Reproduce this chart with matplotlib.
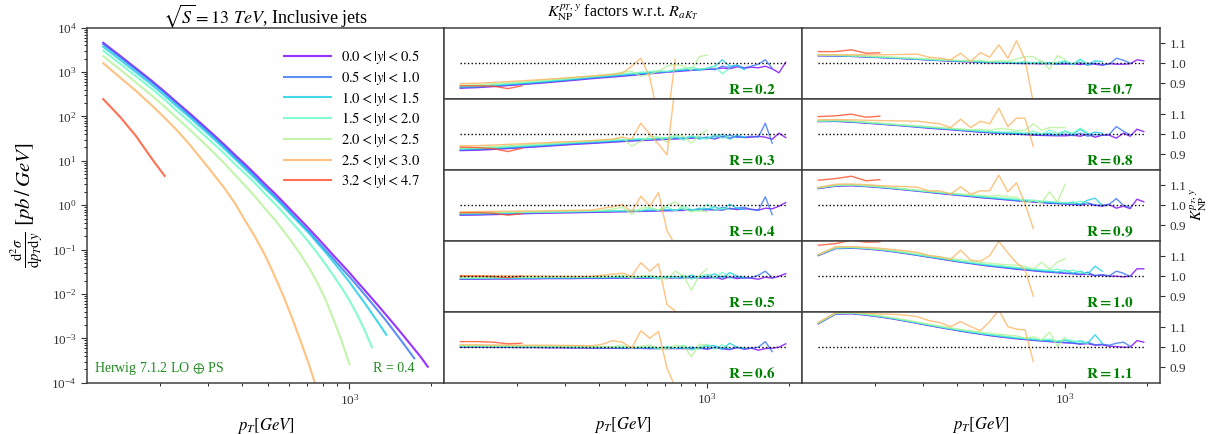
import numpy as np
import matplotlib.pyplot as plt
from matplotlib.ticker import NullFormatter, LogLocator

plt.rcParams['font.family'] = 'serif'
plt.rcParams['font.serif'] = ['Liberation Serif', 'DejaVu Serif']
plt.rcParams['mathtext.fontset'] = 'stix'

# bin centres [GeV]
pt = [123.5, 143, 163.5, 185, 208, 232.5, 258.5, 286, 315, 346, 378.5, 412.5,
      449, 487.5, 527.5, 570, 615, 662, 711.5, 763.5, 818, 875.5, 936, 999.5,
      1066.5, 1136.5, 1210, 1287.5, 1368.5, 1453.5, 1542.5, 1636, 1734, 1837, 1945]

ybins = [r'$0.0 < |y| < 0.5$', r'$0.5 < |y| < 1.0$', r'$1.0 < |y| < 1.5$',
         r'$1.5 < |y| < 2.0$', r'$2.0 < |y| < 2.5$', r'$2.5 < |y| < 3.0$',
         r'$3.2 < |y| < 4.7$']

# log10 of d2sigma/dpTdy [pb/GeV], R = 0.4
lxs_y0 = [3.66, 3.36, 3.08, 2.82, 2.56, 2.30, 2.06, 1.82, 1.59, 1.36, 1.13, 0.92,
          0.70, 0.48, 0.28, 0.07, -0.14, -0.34, -0.54, -0.74, -0.94, -1.14, -1.33,
          -1.52, -1.72, -1.91, -2.10, -2.29, -2.48, -2.67, -2.86, -3.05, -3.24,
          -3.43, -3.64]
lxs_y1 = [3.63, 3.33, 3.05, 2.79, 2.53, 2.27, 2.02, 1.78, 1.55, 1.32, 1.08, 0.87,
          0.65, 0.42, 0.22, 0.01, -0.21, -0.41, -0.61, -0.82, -1.02, -1.22, -1.42,
          -1.61, -1.81, -2.01, -2.21, -2.41, -2.61, -2.82, -3.03, -3.24, -3.45]
lxs_y2 = [3.57, 3.27, 2.99, 2.73, 2.47, 2.21, 1.97, 1.73, 1.50, 1.27, 1.04, 0.82,
          0.60, 0.38, 0.18, -0.03, -0.24, -0.44, -0.64, -0.86, -1.07, -1.29, -1.51,
          -1.73, -1.97, -2.20, -2.44, -2.68, -2.92]
lxs_y3 = [3.48, 3.18, 2.90, 2.64, 2.38, 2.11, 1.87, 1.62, 1.39, 1.16, 0.92, 0.71,
          0.49, 0.26, 0.05, -0.17, -0.40, -0.62, -0.85, -1.09, -1.34, -1.60, -1.86,
          -2.14, -2.46, -2.81, -3.20]
lxs_y4 = [3.36, 3.05, 2.76, 2.49, 2.22, 1.95, 1.69, 1.44, 1.19, 0.94, 0.68, 0.44,
          0.19, -0.07, -0.31, -0.57, -0.84, -1.12, -1.42, -1.76, -2.14, -2.59, -3.06,
          -3.58]
lxs_y5 = [3.20, 2.87, 2.57, 2.27, 1.97, 1.67, 1.35, 1.02, 0.70, 0.38, 0.04, -0.35,
          -0.72, -1.12, -1.57, -2.04, -2.55, -3.08, -3.62, -4.20]
lxs_y6 = [2.39, 1.98, 1.55, 1.08, 0.66]

# K_NP(pT, y) per jet radius, one list per rapidity bin
k_r02 = [
    [0.875, 0.878, 0.883, 0.888, 0.893, 0.898, 0.903, 0.908, 0.913, 0.918, 0.923, 0.927, 0.931, 0.935, 0.939, 0.943, 0.947, 0.951, 0.955, 0.958, 0.961, 0.964, 0.967, 0.969, 0.971, 0.976, 0.972, 0.982, 0.975, 0.980, 0.977, 0.985, 0.972, 0.952, 1.005],
    [0.878, 0.881, 0.886, 0.891, 0.896, 0.901, 0.906, 0.911, 0.916, 0.921, 0.926, 0.930, 0.934, 0.938, 0.942, 0.946, 0.950, 0.954, 0.957, 0.961, 0.964, 0.967, 0.970, 0.972, 0.968, 0.985, 0.978, 0.990, 0.977, 0.985, 0.995, 1.017, 0.975],
    [0.882, 0.884, 0.889, 0.894, 0.899, 0.904, 0.909, 0.914, 0.919, 0.924, 0.929, 0.933, 0.937, 0.941, 0.945, 0.949, 0.953, 0.956, 0.958, 0.962, 0.966, 0.970, 0.965, 0.975, 0.985, 1.017, 0.985, 0.990, 0.967],
    [0.886, 0.888, 0.893, 0.898, 0.903, 0.908, 0.913, 0.918, 0.923, 0.928, 0.933, 0.937, 0.941, 0.946, 0.950, 0.955, 0.958, 0.962, 0.958, 0.968, 0.972, 0.980, 0.970, 0.975, 0.985, 0.947, 0.975],
    [0.890, 0.892, 0.897, 0.902, 0.907, 0.912, 0.917, 0.922, 0.927, 0.932, 0.937, 0.941, 0.946, 0.955, 0.960, 0.935, 0.945, 0.960, 0.985, 0.995, 0.985, 0.965, 1.033, 1.040],
    [0.898, 0.900, 0.904, 0.908, 0.912, 0.916, 0.920, 0.924, 0.928, 0.932, 0.936, 0.940, 0.944, 0.950, 0.985, 1.025, 0.930, 0.720, 0.700, 1.020],
    [0.887, 0.887, 0.885, 0.873, 0.887]]
k_r03 = [
    [0.918, 0.920, 0.924, 0.928, 0.932, 0.936, 0.940, 0.944, 0.948, 0.951, 0.954, 0.957, 0.960, 0.963, 0.966, 0.968, 0.970, 0.972, 0.974, 0.976, 0.978, 0.980, 0.982, 0.984, 0.976, 0.988, 0.980, 0.990, 0.983, 0.985, 0.990, 0.985, 0.975, 1.005, 0.983],
    [0.921, 0.923, 0.927, 0.931, 0.935, 0.939, 0.943, 0.947, 0.951, 0.954, 0.957, 0.960, 0.963, 0.966, 0.969, 0.971, 0.973, 0.975, 0.977, 0.979, 0.981, 0.983, 0.985, 0.980, 0.992, 0.985, 0.995, 0.984, 0.985, 0.990, 0.985, 1.055, 0.955],
    [0.925, 0.927, 0.931, 0.935, 0.939, 0.943, 0.947, 0.951, 0.955, 0.958, 0.961, 0.964, 0.967, 0.970, 0.973, 0.975, 0.977, 0.979, 0.981, 0.983, 0.979, 0.990, 0.975, 0.985, 0.980, 1.000, 0.975, 0.995, 0.985],
    [0.928, 0.930, 0.934, 0.938, 0.942, 0.946, 0.950, 0.954, 0.958, 0.961, 0.964, 0.967, 0.970, 0.972, 0.975, 0.978, 0.975, 0.985, 0.980, 0.995, 0.970, 0.990, 0.985, 0.975, 1.000, 0.980, 0.990],
    [0.932, 0.934, 0.938, 0.942, 0.946, 0.950, 0.954, 0.958, 0.962, 0.965, 0.968, 0.971, 0.974, 0.985, 0.940, 0.965, 0.990, 0.985, 0.960, 0.995, 0.990, 0.955, 0.998, 1.020],
    [0.942, 0.943, 0.946, 0.949, 0.952, 0.955, 0.958, 0.961, 0.963, 0.965, 0.968, 0.972, 0.975, 0.985, 0.975, 1.055, 1.000, 0.950, 0.897, 1.250],
    [0.935, 0.933, 0.928, 0.913, 0.930]]
k_r04 = [
    [0.950, 0.951, 0.953, 0.955, 0.957, 0.959, 0.960, 0.961, 0.962, 0.963, 0.964, 0.965, 0.966, 0.967, 0.968, 0.969, 0.970, 0.971, 0.972, 0.973, 0.974, 0.975, 0.976, 0.977, 0.978, 0.975, 0.985, 0.978, 0.982, 0.980, 0.975, 0.985, 0.982, 0.995, 1.013],
    [0.953, 0.954, 0.956, 0.958, 0.960, 0.962, 0.963, 0.964, 0.965, 0.966, 0.967, 0.968, 0.969, 0.970, 0.971, 0.972, 0.973, 0.974, 0.975, 0.976, 0.977, 0.978, 0.979, 0.982, 0.975, 0.990, 0.980, 0.985, 0.990, 0.978, 0.975, 1.042, 0.953],
    [0.956, 0.957, 0.959, 0.961, 0.963, 0.964, 0.965, 0.966, 0.967, 0.968, 0.969, 0.970, 0.971, 0.972, 0.973, 0.974, 0.975, 0.976, 0.977, 0.975, 0.982, 0.972, 0.985, 0.978, 0.993, 0.975, 1.005, 0.985, 0.978],
    [0.959, 0.960, 0.962, 0.963, 0.964, 0.965, 0.966, 0.967, 0.968, 0.969, 0.970, 0.971, 0.972, 0.973, 0.975, 0.972, 0.985, 0.975, 0.990, 0.972, 0.995, 0.978, 0.970, 1.005, 0.975, 0.985, 0.978],
    [0.962, 0.963, 0.964, 0.965, 0.966, 0.967, 0.968, 0.969, 0.970, 0.971, 0.973, 0.975, 0.980, 0.990, 0.955, 0.985, 0.990, 0.975, 1.000, 1.017, 0.980, 0.967, 0.975, 0.965],
    [0.967, 0.968, 0.969, 0.970, 0.971, 0.971, 0.972, 0.973, 0.974, 0.975, 0.976, 0.985, 0.992, 1.003, 0.967, 1.045, 0.995, 1.063, 0.872, 0.800],
    [0.962, 0.963, 0.960, 0.950, 0.958]]
k_r05 = [
    [0.985, 0.985, 0.986, 0.986, 0.987, 0.987, 0.988, 0.988, 0.988, 0.989, 0.989, 0.989, 0.990, 0.990, 0.990, 0.990, 0.991, 0.991, 0.991, 0.991, 0.992, 0.992, 0.992, 0.990, 0.995, 0.985, 0.997, 0.988, 0.993, 0.990, 0.985, 0.995, 0.990, 1.000, 1.013],
    [0.987, 0.987, 0.988, 0.988, 0.989, 0.989, 0.990, 0.990, 0.990, 0.991, 0.991, 0.991, 0.992, 0.992, 0.992, 0.992, 0.993, 0.993, 0.993, 0.993, 0.994, 0.994, 0.992, 0.997, 0.990, 1.000, 0.992, 0.995, 0.990, 0.993, 1.005, 1.025, 0.993],
    [0.989, 0.989, 0.990, 0.990, 0.991, 0.991, 0.992, 0.992, 0.992, 0.993, 0.993, 0.993, 0.994, 0.994, 0.994, 0.994, 0.995, 0.995, 0.995, 0.998, 0.990, 1.005, 0.993, 1.000, 1.012, 0.990, 1.018, 1.000, 0.995],
    [0.991, 0.991, 0.992, 0.992, 0.993, 0.993, 0.994, 0.994, 0.994, 0.995, 0.995, 0.995, 0.996, 0.996, 0.997, 0.995, 0.998, 0.985, 1.000, 0.990, 1.005, 0.985, 0.998, 1.010, 0.990, 1.020, 0.995],
    [0.993, 0.993, 0.994, 0.994, 0.995, 0.995, 0.996, 0.996, 0.996, 0.997, 0.997, 0.998, 0.999, 1.005, 0.990, 1.000, 1.005, 0.995, 0.985, 1.025, 1.000, 0.930, 1.005, 1.037],
    [1.003, 1.003, 1.002, 1.002, 1.001, 1.001, 1.000, 1.000, 0.999, 0.999, 1.000, 1.005, 1.010, 1.015, 1.000, 1.067, 1.025, 1.062, 0.858, 0.825],
    [1.000, 1.000, 0.998, 0.993, 1.000]]
k_r06 = [
    [1.000, 1.000, 0.999, 0.999, 0.998, 0.998, 0.997, 0.997, 0.996, 0.996, 0.995, 0.995, 0.995, 0.994, 0.994, 0.994, 0.993, 0.993, 0.993, 0.993, 0.993, 0.992, 0.995, 0.990, 0.998, 0.992, 0.988, 0.998, 0.990, 0.995, 0.985, 0.993, 0.995, 1.000, 1.017],
    [1.002, 1.002, 1.001, 1.001, 1.000, 1.000, 0.999, 0.999, 0.998, 0.998, 0.997, 0.997, 0.997, 0.996, 0.996, 0.996, 0.995, 0.995, 0.995, 0.995, 0.995, 0.994, 0.998, 0.992, 1.000, 0.995, 0.990, 1.000, 0.993, 0.995, 1.000, 1.028, 0.978],
    [1.004, 1.004, 1.003, 1.003, 1.002, 1.002, 1.001, 1.001, 1.000, 1.000, 0.999, 0.999, 0.999, 0.998, 0.998, 0.998, 0.997, 0.997, 0.997, 0.997, 0.995, 1.000, 0.992, 1.005, 1.008, 0.990, 1.020, 1.000, 0.995],
    [1.006, 1.006, 1.005, 1.005, 1.004, 1.004, 1.003, 1.003, 1.002, 1.002, 1.001, 1.001, 1.000, 1.000, 1.000, 0.998, 1.002, 0.990, 1.005, 0.995, 1.010, 0.985, 1.000, 1.015, 0.990, 1.012, 0.995],
    [1.008, 1.008, 1.007, 1.007, 1.006, 1.006, 1.005, 1.005, 1.004, 1.004, 1.003, 1.003, 1.002, 1.010, 0.995, 1.005, 1.010, 0.998, 0.990, 1.010, 1.005, 0.953, 1.015, 1.010],
    [1.012, 1.012, 1.011, 1.011, 1.010, 1.010, 1.010, 1.009, 1.009, 1.008, 1.008, 1.015, 1.033, 1.025, 0.995, 1.082, 1.045, 1.078, 0.895, 0.800],
    [1.028, 1.028, 1.025, 1.017, 1.020]]
k_r07 = [
    [1.037, 1.036, 1.034, 1.031, 1.028, 1.025, 1.022, 1.019, 1.016, 1.013, 1.010, 1.008, 1.006, 1.004, 1.002, 1.001, 1.000, 0.999, 0.998, 0.998, 0.997, 0.997, 0.996, 0.996, 0.998, 0.993, 1.000, 0.995, 0.990, 0.998, 0.995, 0.995, 0.997, 1.017, 1.012],
    [1.038, 1.037, 1.035, 1.032, 1.029, 1.026, 1.023, 1.020, 1.017, 1.014, 1.012, 1.010, 1.008, 1.006, 1.004, 1.003, 1.002, 1.001, 1.000, 1.000, 0.999, 0.999, 0.998, 1.000, 0.995, 1.003, 0.990, 1.000, 0.993, 0.995, 1.025, 1.015, 1.000],
    [1.039, 1.038, 1.036, 1.033, 1.030, 1.027, 1.024, 1.021, 1.018, 1.015, 1.013, 1.011, 1.009, 1.007, 1.005, 1.004, 1.003, 1.002, 1.001, 1.000, 1.000, 1.003, 0.995, 1.010, 0.995, 1.020, 0.993, 1.012, 1.008],
    [1.040, 1.039, 1.037, 1.034, 1.031, 1.028, 1.025, 1.022, 1.019, 1.016, 1.014, 1.012, 1.010, 1.008, 1.007, 1.005, 1.006, 1.003, 1.008, 1.000, 1.010, 0.995, 1.005, 1.012, 0.993, 1.015, 0.998],
    [1.041, 1.040, 1.038, 1.035, 1.033, 1.030, 1.027, 1.024, 1.021, 1.018, 1.016, 1.014, 1.012, 1.015, 1.008, 1.012, 1.010, 1.020, 1.033, 1.033, 1.008, 0.970, 1.038, 1.020],
    [1.042, 1.042, 1.042, 1.042, 1.042, 1.043, 1.044, 1.045, 1.030, 1.025, 1.017, 1.050, 1.008, 1.053, 1.030, 1.092, 1.025, 1.112, 1.020, 0.800],
    [1.058, 1.058, 1.067, 1.050, 1.052]]
k_r08 = [
    [1.063, 1.064, 1.060, 1.055, 1.050, 1.045, 1.040, 1.035, 1.030, 1.026, 1.022, 1.018, 1.014, 1.010, 1.007, 1.004, 1.002, 1.000, 0.998, 0.995, 0.994, 0.993, 0.992, 0.992, 0.995, 0.990, 1.000, 0.985, 0.995, 0.995, 0.980, 1.005, 0.990, 1.025, 1.013],
    [1.064, 1.066, 1.062, 1.057, 1.052, 1.047, 1.042, 1.037, 1.032, 1.028, 1.024, 1.020, 1.016, 1.012, 1.009, 1.006, 1.004, 1.002, 1.000, 0.998, 0.997, 0.996, 0.995, 1.000, 0.993, 1.005, 0.990, 0.998, 0.995, 1.000, 1.038, 1.015, 0.997],
    [1.065, 1.067, 1.063, 1.058, 1.053, 1.048, 1.043, 1.038, 1.034, 1.030, 1.026, 1.022, 1.018, 1.014, 1.011, 1.008, 1.006, 1.004, 1.003, 1.002, 1.000, 1.005, 0.995, 1.015, 0.998, 1.025, 0.998, 1.010, 1.005],
    [1.066, 1.068, 1.064, 1.059, 1.054, 1.049, 1.044, 1.039, 1.035, 1.031, 1.027, 1.023, 1.020, 1.016, 1.013, 1.011, 1.010, 1.012, 1.005, 1.015, 1.000, 1.020, 1.005, 1.015, 1.005, 1.030, 1.008],
    [1.067, 1.069, 1.065, 1.060, 1.055, 1.050, 1.046, 1.042, 1.038, 1.034, 1.030, 1.026, 1.022, 1.025, 1.020, 1.028, 1.025, 1.018, 1.020, 1.052, 1.020, 1.033, 1.033, 1.033],
    [1.072, 1.073, 1.072, 1.070, 1.068, 1.067, 1.066, 1.065, 1.058, 1.052, 1.033, 1.075, 1.033, 1.065, 1.052, 1.130, 1.038, 1.080, 1.080, 0.938],
    [1.088, 1.092, 1.100, 1.085, 1.090]]
k_r09 = [
    [1.083, 1.095, 1.097, 1.093, 1.088, 1.082, 1.076, 1.070, 1.064, 1.058, 1.053, 1.048, 1.043, 1.038, 1.034, 1.030, 1.026, 1.022, 1.019, 1.016, 1.013, 1.010, 1.008, 1.006, 1.004, 1.000, 1.008, 1.000, 0.995, 1.003, 0.985, 0.995, 0.983, 1.030, 1.017],
    [1.085, 1.097, 1.099, 1.095, 1.090, 1.084, 1.078, 1.072, 1.066, 1.060, 1.055, 1.050, 1.045, 1.040, 1.036, 1.032, 1.028, 1.024, 1.021, 1.018, 1.015, 1.012, 1.010, 1.008, 1.006, 1.004, 1.012, 1.000, 1.000, 1.005, 1.033, 1.000, 0.990],
    [1.086, 1.098, 1.100, 1.096, 1.091, 1.085, 1.079, 1.073, 1.067, 1.062, 1.057, 1.052, 1.047, 1.042, 1.038, 1.034, 1.030, 1.026, 1.023, 1.020, 1.017, 1.014, 1.012, 1.010, 1.015, 1.005, 1.025, 1.035, 1.000],
    [1.087, 1.099, 1.101, 1.097, 1.092, 1.086, 1.080, 1.074, 1.068, 1.063, 1.058, 1.053, 1.048, 1.044, 1.040, 1.036, 1.033, 1.030, 1.027, 1.025, 1.020, 1.018, 1.015, 1.012, 1.010, 1.020, 1.008],
    [1.088, 1.100, 1.102, 1.098, 1.093, 1.087, 1.081, 1.075, 1.070, 1.065, 1.060, 1.056, 1.052, 1.050, 1.045, 1.048, 1.042, 1.040, 1.012, 1.025, 1.010, 1.067, 1.015, 1.105],
    [1.088, 1.105, 1.106, 1.103, 1.098, 1.095, 1.093, 1.090, 1.072, 1.072, 1.055, 1.092, 1.055, 1.072, 1.072, 1.150, 1.067, 1.112, 1.008, 0.883],
    [1.125, 1.133, 1.145, 1.122, 1.128]]
k_r10 = [
    [1.103, 1.138, 1.140, 1.136, 1.130, 1.122, 1.113, 1.104, 1.095, 1.086, 1.078, 1.070, 1.063, 1.056, 1.050, 1.045, 1.040, 1.035, 1.031, 1.027, 1.023, 1.020, 1.017, 1.014, 1.012, 1.008, 1.010, 1.003, 1.005, 1.000, 1.000, 0.997, 1.000, 1.037, 1.037],
    [1.105, 1.140, 1.142, 1.138, 1.132, 1.124, 1.115, 1.106, 1.097, 1.088, 1.080, 1.072, 1.065, 1.058, 1.052, 1.047, 1.042, 1.037, 1.033, 1.029, 1.025, 1.022, 1.019, 1.016, 1.014, 1.010, 1.020, 1.003, 1.008, 1.002, 1.025, 1.015, 0.998],
    [1.106, 1.141, 1.143, 1.139, 1.133, 1.125, 1.116, 1.107, 1.098, 1.089, 1.081, 1.073, 1.066, 1.060, 1.054, 1.049, 1.044, 1.040, 1.036, 1.032, 1.028, 1.025, 1.020, 1.030, 1.015, 1.025, 1.010, 1.050, 1.025],
    [1.107, 1.142, 1.144, 1.140, 1.134, 1.126, 1.117, 1.108, 1.099, 1.091, 1.083, 1.075, 1.068, 1.062, 1.057, 1.052, 1.048, 1.044, 1.040, 1.036, 1.032, 1.030, 1.035, 1.025, 1.030, 1.020, 1.012],
    [1.108, 1.143, 1.145, 1.141, 1.135, 1.128, 1.120, 1.112, 1.104, 1.096, 1.089, 1.082, 1.076, 1.070, 1.065, 1.060, 1.057, 1.055, 1.050, 1.035, 1.070, 1.035, 1.070, 1.087],
    [1.108, 1.147, 1.148, 1.145, 1.140, 1.133, 1.127, 1.120, 1.103, 1.097, 1.083, 1.130, 1.080, 1.075, 1.103, 1.175, 1.117, 1.067, 1.033, 0.900],
    [1.155, 1.163, 1.180, 1.170, 1.172]]
k_r11 = [
    [1.117, 1.165, 1.167, 1.160, 1.151, 1.141, 1.130, 1.119, 1.108, 1.098, 1.089, 1.080, 1.072, 1.065, 1.058, 1.052, 1.047, 1.042, 1.038, 1.034, 1.031, 1.028, 1.025, 1.022, 1.020, 1.015, 1.018, 1.010, 1.012, 1.005, 1.003, 1.000, 1.000, 1.033, 1.025],
    [1.119, 1.167, 1.169, 1.162, 1.153, 1.143, 1.132, 1.121, 1.110, 1.100, 1.091, 1.082, 1.074, 1.067, 1.060, 1.054, 1.049, 1.044, 1.040, 1.036, 1.033, 1.030, 1.027, 1.024, 1.022, 1.017, 1.025, 1.012, 1.015, 1.010, 1.020, 1.025, 1.005],
    [1.120, 1.168, 1.170, 1.163, 1.154, 1.144, 1.133, 1.122, 1.111, 1.101, 1.092, 1.083, 1.075, 1.068, 1.062, 1.056, 1.051, 1.046, 1.042, 1.038, 1.035, 1.032, 1.028, 1.035, 1.025, 1.032, 1.020, 1.062, 1.020],
    [1.121, 1.169, 1.171, 1.164, 1.155, 1.145, 1.134, 1.123, 1.112, 1.102, 1.093, 1.085, 1.077, 1.070, 1.064, 1.058, 1.053, 1.048, 1.045, 1.042, 1.038, 1.040, 1.030, 1.040, 1.032, 1.025, 1.020],
    [1.122, 1.170, 1.172, 1.166, 1.157, 1.147, 1.136, 1.125, 1.115, 1.106, 1.097, 1.089, 1.082, 1.076, 1.070, 1.065, 1.060, 1.057, 1.045, 1.053, 1.035, 1.075, 1.005, 1.050],
    [1.123, 1.173, 1.174, 1.170, 1.166, 1.165, 1.160, 1.153, 1.133, 1.123, 1.103, 1.128, 1.103, 1.083, 1.128, 1.185, 1.103, 1.090, 1.087, 0.928],
    [1.200, 1.210, 1.220, 1.210, 1.210]]

radii = [['0.2', '0.3', '0.4', '0.5', '0.6'], ['0.7', '0.8', '0.9', '1.0', '1.1']]
kfac = [[k_r02, k_r03, k_r04, k_r05, k_r06], [k_r07, k_r08, k_r09, k_r10, k_r11]]

colors = plt.cm.rainbow(np.linspace(0, 0.9, 7))
W, H = 1211, 434
def box(x0, ytop, w, h):
    return [x0 / W, 1 - (ytop + h) / H, w / W, h / H]

fig = plt.figure(figsize=(W / 100, H / 100), dpi=100)
spc = '0.25'

# ---- cross sections ----
ax = fig.add_axes(box(87, 27.7, 357, 355))
lxs = [lxs_y0, lxs_y1, lxs_y2, lxs_y3, lxs_y4, lxs_y5, lxs_y6]
for i, v in enumerate(lxs):
    ax.plot(pt[:len(v)], np.power(10.0, v), color=colors[i], lw=1.5, alpha=0.8,
            label=ybins[i])
ax.set_xscale('log')
ax.set_yscale('log')
ax.set_ylim(1e-4, 1e4)
ax.yaxis.set_major_locator(LogLocator(base=10, numticks=20))
ax.yaxis.set_minor_locator(LogLocator(base=10, subs=np.arange(2, 10), numticks=20))
ax.yaxis.set_minor_formatter(NullFormatter())
ax.xaxis.set_minor_formatter(NullFormatter())
ax.tick_params(labelsize=9.5, colors='0.2', direction='out')
ax.tick_params(which='major', length=4)
ax.tick_params(which='minor', length=2)
for s in ax.spines.values():
    s.set_color(spc)
    s.set_linewidth(1.1)
ax.legend(loc='upper right', frameon=False, fontsize=10.5, handlelength=3.2,
          handletextpad=0.7, labelspacing=0.2, borderaxespad=0,
          bbox_to_anchor=(0.95, 0.96))
ax.text(0.02, 0.04, r'Herwig 7.1.2 LO $\oplus$ PS', transform=ax.transAxes,
        color='forestgreen', fontsize=10, va='center')
ax.text(0.86, 0.04, r'R = 0.4', transform=ax.transAxes, color='forestgreen',
        fontsize=10, va='center', ha='center')
ax.set_ylabel(r'$\frac{\mathrm{d}^2\sigma}{\mathrm{d}p_T\mathrm{d}y}\ [pb\,/\,GeV]$',
              fontsize=15, labelpad=4)
ax.set_xlabel(r'$p_T[GeV]$', fontsize=12, labelpad=6)
fig.text(265 / W, 1 - 16 / H, r'$\sqrt{S} = 13\ TeV$, Inclusive jets',
         ha='center', va='center', fontsize=13)

# ---- K factors ----
xcol = [444, 802]
for c in range(2):
    for r in range(5):
        a = fig.add_axes(box(xcol[c], 27.7 + 71 * r, 358, 71))
        data = kfac[c][r]
        for i, v in enumerate(data):
            a.plot(pt[:len(v)], v, color=colors[i], lw=1.0, alpha=0.8)
        a.plot([pt[0], pt[-1]], [1.0, 1.0], ls=':', color='k', lw=1.0)
        a.set_xscale('log')
        a.set_ylim(0.8225, 1.1775)
        a.xaxis.set_minor_formatter(NullFormatter())
        for s in a.spines.values():
            s.set_color(spc)
            s.set_linewidth(1.1)
        a.tick_params(labelsize=9.5, colors='0.2', direction='out')
        a.tick_params(which='minor', length=2)
        a.text(0.86, 0.125, r'$\mathbf{R = ' + radii[c][r] + '}$', transform=a.transAxes,
               color='green', fontsize=11, ha='center', va='center')
        if c == 0:
            a.tick_params(left=False, labelleft=False)
        else:
            a.yaxis.tick_right()
            a.set_yticks([0.9, 1.0, 1.1])
            a.set_yticklabels(['0.9', '1.0', '1.1'])
        if r < 4:
            a.tick_params(which='both', bottom=False, labelbottom=False)
        else:
            a.set_xlabel(r'$p_T[GeV]$', fontsize=12, labelpad=6)

fig.text(623 / W, 1 - 13 / H, r'$K^{p_T,y}_{\rm NP}$ factors w.r.t. $R_{aK_T}$',
         ha='center', va='center', fontsize=11.5)
fig.text(1199 / W, 1 - 205 / H, r'$K^{p_T,y}_{\rm NP}$', rotation=90,
         ha='center', va='center', fontsize=11)

fig.savefig('out.png', dpi=100)
